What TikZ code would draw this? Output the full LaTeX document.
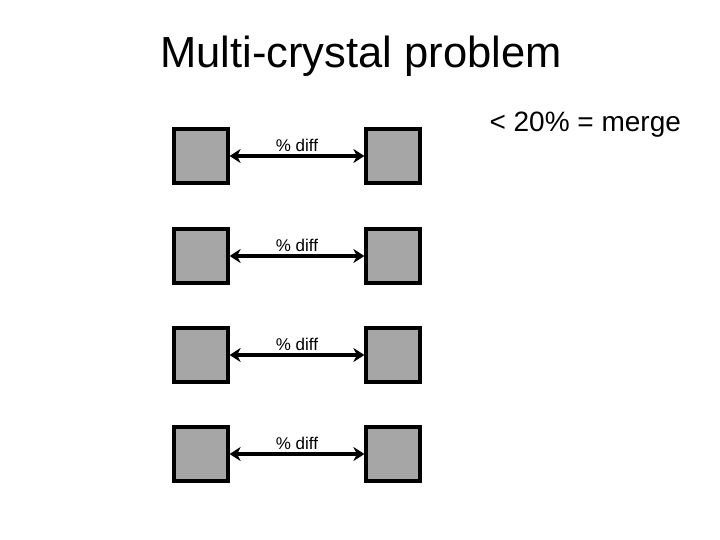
\documentclass[tikz,border=0pt]{standalone}
\usepackage{fontspec}
\setmainfont{Liberation Sans}
\usetikzlibrary{arrows.meta}
\definecolor{boxgray}{HTML}{A6A6A6}
\tikzset{
  crystal/.style={draw=black, line width=3.2pt, fill=boxgray, minimum width=54pt, minimum height=54pt, inner sep=0pt},
  diffarrow/.style={arrows={Stealth[length=11pt,width=14pt,inset=3.5pt]-Stealth[length=11pt,width=14pt,inset=3.5pt]}, line width=3.4pt},
  difflabel/.style={font=\fontsize{17pt}{19pt}\selectfont, inner sep=0pt}
}
\begin{document}
\begin{tikzpicture}[x=1pt,y=-1pt]
\useasboundingbox (0,0) rectangle (720,540);
\node[font=\fontsize{43.5pt}{48pt}\selectfont] (title) at (361,56) {Multi-crystal problem};
\node[font=\fontsize{28pt}{32pt}\selectfont, anchor=west] (merge) at (486,125) {< 20\% = merge};
\foreach \i/\y in {1/156,2/256,3/355,4/454}{
  \node[crystal] (l\i) at (201,\y) {};
  \node[crystal] (r\i) at (393,\y) {};
  \draw[diffarrow] (l\i.east) -- (r\i.west);
  \node[difflabel] (d\i) at (297,\y-11) {\% diff};
}
\end{tikzpicture}
\end{document}
